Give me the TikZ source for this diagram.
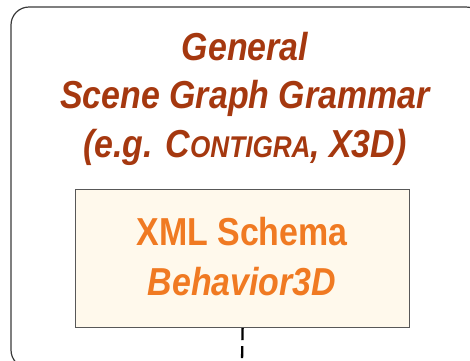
\documentclass[tikz,border=0pt]{standalone}
\usepackage{fontspec}
\setmainfont{Liberation Sans}[FakeStretch=0.87]
\definecolor{grammarbrown}{HTML}{A5380F}
\definecolor{schemaorange}{HTML}{F07A22}
\definecolor{schemafill}{HTML}{FFF9EC}
\definecolor{frameline}{HTML}{3A3A3A}
\begin{document}
\begin{tikzpicture}[x=1pt,y=-1pt,
  outerframe/.style={draw=frameline,line width=1.2pt,rounded corners=18pt},
  schemabox/.style={draw=frameline!85,fill=schemafill,line width=1.2pt},
  titletext/.style={text=grammarbrown,font=\fontsize{39}{48.5}\selectfont\bfseries\itshape,align=center,inner sep=0pt},
  schematext/.style={text=schemaorange,font=\fontsize{39}{50}\selectfont\bfseries,align=center,inner sep=0pt},
  link/.style={draw=black,line width=2.3pt,dash pattern=on 12pt off 6pt}]
\useasboundingbox (0,0) rectangle (470,360);
% outer grammar frame, partly cut by the page edge
\draw[outerframe] (11,7) rectangle (484,368);
% the base anchor of a multi-line node sits on its last line
\node[titletext,anchor=base] (title) at (245,157)
  {General\\Scene Graph Grammar\\(e.g. C{\fontsize{30}{48.5}\selectfont ONTIGRA}, X3D)};
% schema box
\node[schemabox,minimum width=334pt,minimum height=138pt,anchor=north west] (schema) at (75,189) {};
\node[schematext,anchor=base] (schemalabel) at (242,295)
  {XML Schema\\{\itshape Behavior3D}};
\coordinate (below) at (242,362);
\draw[link] (schema.south) -- (below);
\end{tikzpicture}
\end{document}
